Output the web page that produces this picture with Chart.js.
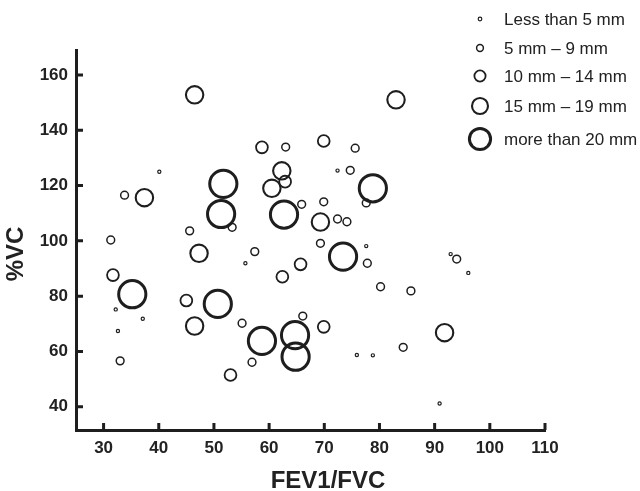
<!DOCTYPE html>
<html>
<head>
<meta charset="utf-8">
<script src="https://cdn.jsdelivr.net/npm/chart.js@4"></script>
<style>
  html, body { margin: 0; padding: 0; background: #ffffff; }
  #c { display: block; }
</style>
</head>
<body>
<canvas id="c" width="640" height="491"></canvas>
<script>
// ---- data (FEV1/FVC, %VC) ----
const categories = ['Less than 5 mm', '5 mm \u2013 9 mm', '10 mm \u2013 14 mm', '15 mm \u2013 19 mm', 'more than 20 mm'];

const lessThan5 = [
  [40.1, 125.0], [72.4, 125.4], [32.2, 75.2], [37.1, 71.8], [32.6, 67.4], [55.7, 91.9],
  [77.6, 98.1], [75.9, 58.7], [78.8, 58.6], [92.9, 95.2], [96.1, 88.4], [90.9, 41.2]
];
const from5to9 = [
  [33.8, 116.5], [53.3, 104.9], [45.6, 103.6], [31.3, 100.3], [63.0, 133.9], [75.6, 133.5],
  [74.7, 125.5], [77.6, 113.7], [65.9, 113.2], [69.9, 114.1], [72.4, 107.9], [74.1, 106.9],
  [55.1, 70.2], [33.0, 56.6], [57.4, 96.1], [69.3, 99.1], [77.8, 91.9], [80.2, 83.4],
  [56.9, 56.1], [66.1, 72.8], [84.3, 61.5], [94.0, 93.4], [85.7, 81.9]
];
const from10to14 = [
  [58.7, 133.8], [69.9, 136.1], [62.9, 121.4], [31.7, 87.6], [45.0, 78.4], [53.0, 51.5],
  [65.7, 91.5], [62.4, 87.0], [69.9, 68.9]
];
const from15to19 = [
  [46.5, 152.8], [83.0, 151.0], [37.4, 115.6], [62.3, 125.3], [60.5, 119.0], [69.3, 106.8],
  [47.3, 95.5], [46.5, 69.2], [91.8, 66.8]
];
const moreThan20 = [
  [51.7, 120.6], [51.3, 109.7], [78.8, 119.0], [62.7, 109.5], [35.2, 80.7], [50.7, 77.2],
  [73.4, 94.3], [58.7, 63.8], [64.7, 65.9], [64.8, 58.1]
];

const xTicks = [30, 40, 50, 60, 70, 80, 90, 100, 110];
const yTicks = [40, 60, 80, 100, 120, 140, 160];
const xTitle = 'FEV1/FVC';
const yTitle = '%VC';

// ---- styles ----
const seriesData = [lessThan5, from5to9, from10to14, from15to19, moreThan20];
const pointRadii = [1.6, 3.9, 5.9, 8.7, 13.6];
const borderWidths = [1.2, 1.5, 1.8, 2.1, 3];
const legendRadii = [1.8, 3.4, 5.6, 8.0, 10.6];
const ink = '#1e1e1e';
const fontFamily = '"Liberation Sans", Arial, sans-serif';

const datasets = categories.map((label, i) => ({
  label: label,
  data: seriesData[i].map(p => ({ x: p[0], y: p[1] })),
  pointRadius: pointRadii[i],
  pointHoverRadius: pointRadii[i],
  pointBorderWidth: borderWidths[i],
  pointBorderColor: ink,
  pointBackgroundColor: 'rgba(0,0,0,0)',
  showLine: false
}));

// inward tick marks, placed through the scales
const innerTicks = {
  id: 'innerTicks',
  afterDraw(chart) {
    const ctx = chart.ctx;
    const ca = chart.chartArea;
    const xs = chart.scales.x, ys = chart.scales.y;
    ctx.save();
    ctx.strokeStyle = ink;
    ctx.lineWidth = 3;
    ctx.beginPath();
    xs.ticks.forEach(t => {
      const px = xs.getPixelForValue(t.value);
      ctx.moveTo(px, ca.bottom);
      ctx.lineTo(px, ca.bottom - 7);
    });
    ys.ticks.forEach(t => {
      const py = ys.getPixelForValue(t.value);
      ctx.moveTo(ca.left, py);
      ctx.lineTo(ca.left + 7, py);
    });
    ctx.stroke();
    ctx.restore();
  }
};

// axis titles (placed as in the original figure)
const axisTitles = {
  id: 'axisTitles',
  afterDraw(chart) {
    const ctx = chart.ctx;
    ctx.save();
    ctx.fillStyle = '#222';
    ctx.font = 'bold 24px ' + fontFamily;
    ctx.textAlign = 'center';
    ctx.textBaseline = 'middle';
    ctx.fillText(xTitle, 328, 481);
    ctx.translate(16, 254);
    ctx.rotate(-Math.PI / 2);
    ctx.fillText(yTitle, 0, 0);
    ctx.restore();
  }
};

// custom legend showing circle sizes
const sizeLegend = {
  id: 'sizeLegend',
  afterDraw(chart) {
    const ctx = chart.ctx;
    const rowsY = [19, 48, 76, 106, 139];
    const cx = 480, tx = 504;
    ctx.save();
    chart.data.datasets.forEach((ds, i) => {
      ctx.beginPath();
      ctx.lineWidth = borderWidths[i];
      ctx.strokeStyle = ink;
      ctx.arc(cx, rowsY[i], legendRadii[i], 0, Math.PI * 2);
      ctx.stroke();
      ctx.fillStyle = '#222';
      ctx.font = '17px ' + fontFamily;
      ctx.textAlign = 'left';
      ctx.textBaseline = 'middle';
      ctx.fillText(ds.label, tx, rowsY[i] + 1);
    });
    ctx.restore();
  }
};

new Chart(document.getElementById('c'), {
  type: 'scatter',
  data: { datasets: datasets },
  options: {
    responsive: false,
    animation: false,
    devicePixelRatio: 1,
    layout: { padding: { left: 0, top: 50, right: 95, bottom: 0 } },
    plugins: {
      legend: { display: false },
      tooltip: { enabled: false },
      title: { display: false }
    },
    scales: {
      x: {
        type: 'linear',
        min: 25,
        max: 110,
        afterBuildTicks: (scale) => { scale.ticks = xTicks.map(v => ({ value: v })); },
        afterFit: (scale) => { scale.height = 61; },
        grid: { display: false, drawTicks: false },
        border: { display: true, color: ink, width: 3 },
        ticks: {
          padding: 8,
          color: '#222',
          font: { family: fontFamily, size: 17, weight: 'bold' }
        },
        title: { display: false, text: xTitle }
      },
      y: {
        type: 'linear',
        min: 31.6,
        max: 169,
        afterBuildTicks: (scale) => { scale.ticks = yTicks.map(v => ({ value: v })); },
        afterFit: (scale) => { scale.width = 76; },
        grid: { display: false, drawTicks: false },
        border: { display: true, color: ink, width: 3 },
        ticks: {
          padding: 8,
          color: '#222',
          font: { family: fontFamily, size: 17, weight: 'bold' }
        },
        title: { display: false, text: yTitle }
      }
    }
  },
  plugins: [innerTicks, axisTitles, sizeLegend]
});
</script>
</body>
</html>
